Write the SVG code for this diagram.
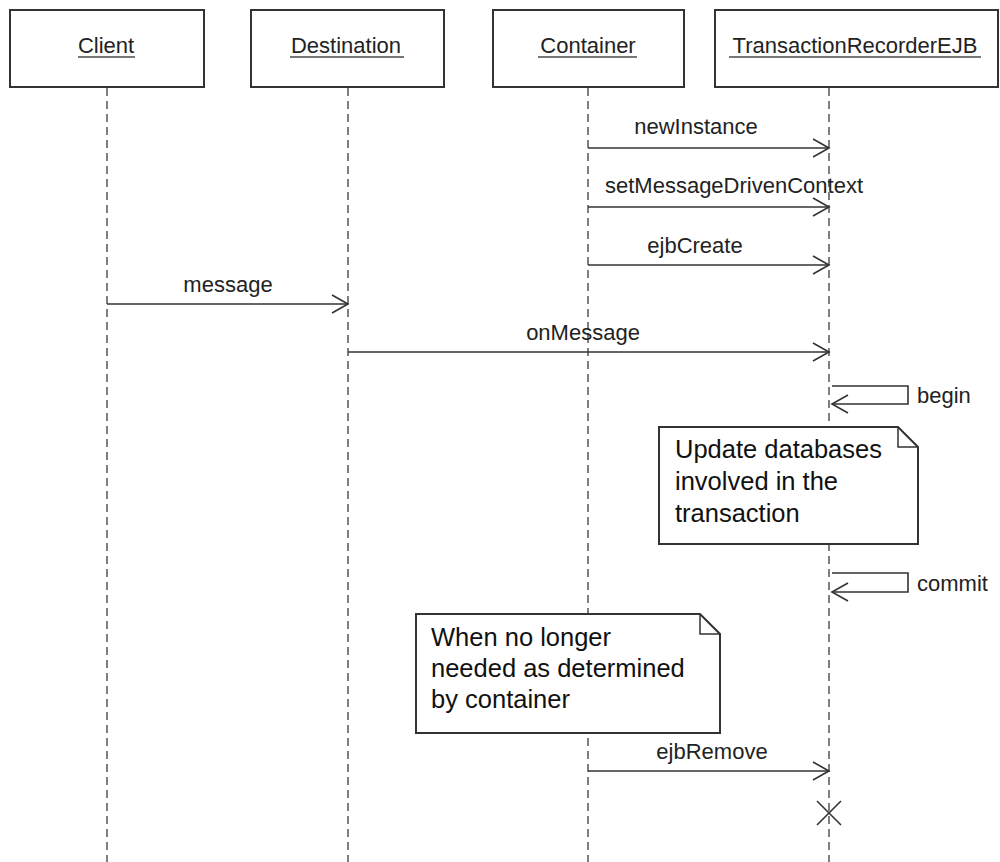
<svg xmlns="http://www.w3.org/2000/svg" width="1000" height="862" viewBox="0 0 1000 862">
<style>
.box{fill:#fff;stroke:#333;stroke-width:2}
.life{stroke:#555;stroke-width:1.5;stroke-dasharray:8 5;fill:none}
.msg{stroke:#333;stroke-width:1.6;fill:none}
.lbl{font-family:"Liberation Sans",Arial,sans-serif;font-size:22px;fill:#222}
.name{font-family:"Liberation Sans",Arial,sans-serif;font-size:22px;fill:#222;text-anchor:middle}
.ul{stroke:#777;stroke-width:2}
.note{font-family:"Liberation Sans",Arial,sans-serif;font-size:25.5px;fill:#111}
</style>
<defs>
<marker id="open" markerWidth="20" markerHeight="20" refX="17" refY="10" orient="auto" markerUnits="userSpaceOnUse">
<path d="M1,1 L17,10 L1,19" fill="none" stroke="#333" stroke-width="1.6"/>
</marker>
</defs>
<rect width="1000" height="862" fill="#fff"/>
<g id="client">
<rect class="box" x="10" y="10" width="194" height="77"/>
<text class="name" x="106" y="53">Client</text>
<line class="ul" x1="78" y1="57" x2="135" y2="57"/>
<line class="life" x1="107" y1="88" x2="107" y2="862"/>
</g>
<g id="destination">
<rect class="box" x="251" y="10" width="193" height="77"/>
<text class="name" x="346" y="53">Destination</text>
<line class="ul" x1="290" y1="57" x2="404" y2="57"/>
<line class="life" x1="348" y1="88" x2="348" y2="862"/>
</g>
<g id="container">
<rect class="box" x="493" y="10" width="191" height="77"/>
<text class="name" x="588" y="53">Container</text>
<line class="ul" x1="538" y1="57" x2="637" y2="57"/>
<line class="life" x1="588" y1="88" x2="588" y2="862"/>
</g>
<g id="transactionRecorderEJB">
<rect class="box" x="715" y="10" width="283" height="77"/>
<text class="name" x="855" y="53">TransactionRecorderEJB</text>
<line class="ul" x1="729" y1="57" x2="981" y2="57"/>
<line class="life" x1="829" y1="88" x2="829" y2="862"/>
<path d="M817,801 L841,825 M841,801 L817,825" stroke="#333" stroke-width="1.6"/>
</g>
<g id="note1">
<path class="box" d="M659,427 L898,427 L918,447 L918,544 L659,544 Z"/>
<path d="M898,427 L898,447 L918,447" fill="none" stroke="#333" stroke-width="1.5"/>
<text class="note" x="675" y="458">Update databases</text>
<text class="note" x="675" y="490">involved in the</text>
<text class="note" x="675" y="522">transaction</text>
</g>
<g id="note2">
<path class="box" d="M416,614 L700,614 L720,634 L720,733 L416,733 Z"/>
<path d="M700,614 L700,634 L720,634" fill="none" stroke="#333" stroke-width="1.5"/>
<text class="note" x="431" y="646">When no longer</text>
<text class="note" x="431" y="677">needed as determined</text>
<text class="note" x="431" y="708">by container</text>
</g>
<g id="connectors">
<line class="msg" x1="588" y1="148" x2="829" y2="148" marker-end="url(#open)"/>
<text class="lbl" x="696" y="134" text-anchor="middle">newInstance</text>
<line class="msg" x1="588" y1="207" x2="829" y2="207" marker-end="url(#open)"/>
<text class="lbl" x="734" y="193" text-anchor="middle">setMessageDrivenContext</text>
<line class="msg" x1="588" y1="265" x2="829" y2="265" marker-end="url(#open)"/>
<text class="lbl" x="695" y="253" text-anchor="middle">ejbCreate</text>
<line class="msg" x1="107" y1="304" x2="348" y2="304" marker-end="url(#open)"/>
<text class="lbl" x="228" y="292" text-anchor="middle">message</text>
<line class="msg" x1="348" y1="352" x2="829" y2="352" marker-end="url(#open)"/>
<text class="lbl" x="583" y="340" text-anchor="middle">onMessage</text>
<path class="msg" d="M832,386 L908,386 L908,404 L832,404" marker-end="url(#open)"/>
<text class="lbl" x="917" y="403">begin</text>
<path class="msg" d="M832,573 L908,573 L908,592 L832,592" marker-end="url(#open)"/>
<text class="lbl" x="917" y="591">commit</text>
<line class="msg" x1="588" y1="771" x2="829" y2="771" marker-end="url(#open)"/>
<text class="lbl" x="712" y="759" text-anchor="middle">ejbRemove</text>
</g>
</svg>
